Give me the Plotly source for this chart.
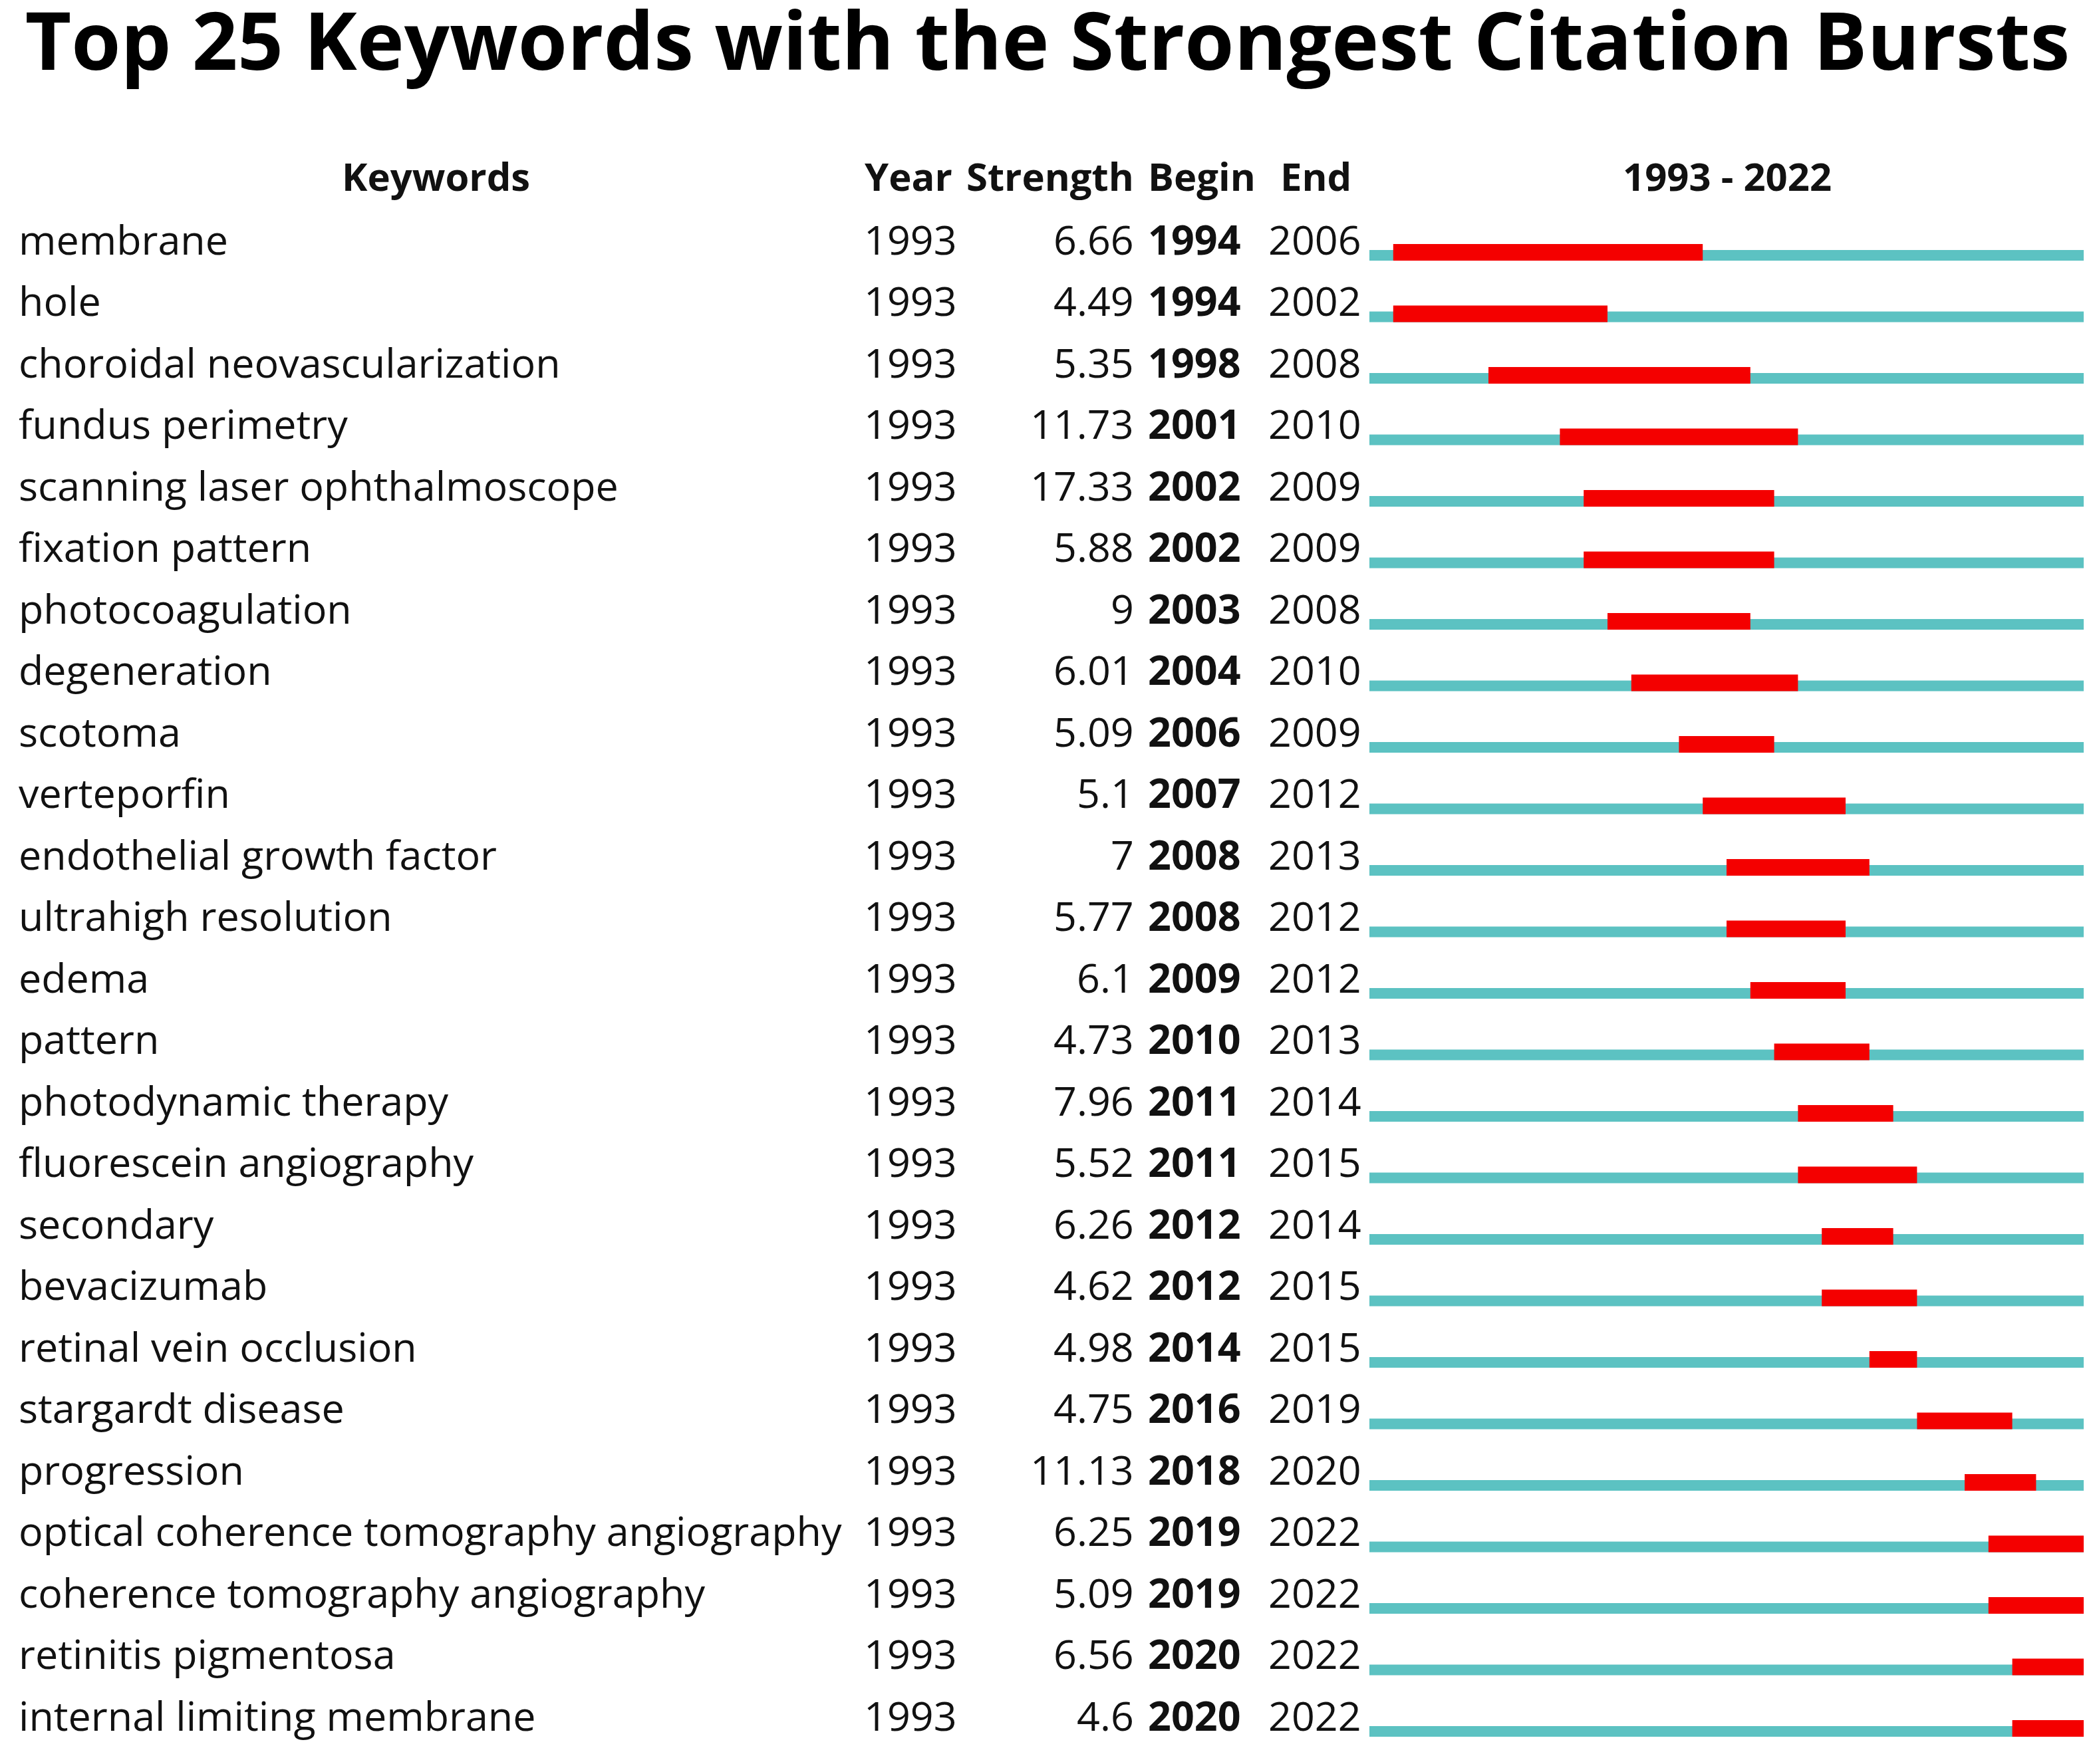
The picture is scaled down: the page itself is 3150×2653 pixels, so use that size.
import plotly.graph_objects as go

W, H = 3150, 2653

keywords = [
    "membrane", "hole", "choroidal neovascularization", "fundus perimetry",
    "scanning laser ophthalmoscope", "fixation pattern", "photocoagulation",
    "degeneration", "scotoma", "verteporfin", "endothelial growth factor",
    "ultrahigh resolution", "edema", "pattern", "photodynamic therapy",
    "fluorescein angiography", "secondary", "bevacizumab",
    "retinal vein occlusion", "stargardt disease", "progression",
    "optical coherence tomography angiography",
    "coherence tomography angiography", "retinitis pigmentosa",
    "internal limiting membrane",
]
year = [1993] * 25
strength = [6.66, 4.49, 5.35, 11.73, 17.33, 5.88, 9, 6.01, 5.09, 5.1, 7, 5.77,
            6.1, 4.73, 7.96, 5.52, 6.26, 4.62, 4.98, 4.75, 11.13, 6.25, 5.09,
            6.56, 4.6]
begin = [1994, 1994, 1998, 2001, 2002, 2002, 2003, 2004, 2006, 2007, 2008,
         2008, 2009, 2010, 2011, 2011, 2012, 2012, 2014, 2016, 2018, 2019,
         2019, 2020, 2020]
end = [2006, 2002, 2008, 2010, 2009, 2009, 2008, 2010, 2009, 2012, 2013, 2012,
       2012, 2013, 2014, 2015, 2014, 2015, 2015, 2019, 2020, 2022, 2022, 2022,
       2022]
first_year, last_year = 1993, 2022

rows = list(range(len(keywords)))

# pixel layout helpers
row_h = 92.5          # px between rows
y0_px = 384           # centre of first teal line
def py(px):           # pixel y -> row units
    return (px - y0_px) / row_h

teal_w = 16 / row_h
red_w = 25 / row_h

fig = go.Figure()

# whole period (teal)
fig.add_trace(go.Bar(
    y=rows,
    x=[last_year + 1 - first_year] * len(rows),
    base=[first_year] * len(rows),
    orientation="h",
    width=teal_w,
    offset=-teal_w / 2,
    marker=dict(color="#5cc2c2", line_width=0),
    hoverinfo="skip",
))

# burst period (red)
fig.add_trace(go.Bar(
    y=rows,
    x=[e + 1 - b for b, e in zip(begin, end)],
    base=begin,
    orientation="h",
    width=red_w,
    offset=teal_w / 2 - red_w,
    marker=dict(color="#f40000", line_width=0),
    hoverinfo="skip",
))

font = "Open Sans"
txt = dict(family=font, size=61, color="#111111")
head = dict(family=font, size=58, color="#111111")

ann = []
text_dy = py(359)
for i in rows:
    y = i + text_dy
    ann.append(dict(x=26 / W, y=y, text=keywords[i], xanchor="left", font=txt))
    ann.append(dict(x=1297 / W, y=y, text=str(year[i]), xanchor="left", font=txt))
    ann.append(dict(x=1707 / W, y=y, text=f"{strength[i]:g}", xanchor="right", font=txt))
    ann.append(dict(x=1724 / W, y=y, text="<b>%d</b>" % begin[i], xanchor="left", font=txt))
    ann.append(dict(x=1977 / W, y=y, text=str(end[i]), xanchor="center", font=txt))

hy = py(264)
headers = [("Keywords", 655, "center"), ("Year", 1298, "left"),
           ("Strength", 1707, "right"), ("Begin", 1724, "left"),
           ("End", 1978, "center"),
           (f"{first_year} - {last_year}", 2597, "center")]
for label, x, anchor in headers:
    ann.append(dict(x=x / W, y=hy, text=f"<b>{label}</b>", xanchor=anchor, font=head))

for a in ann:
    a.update(xref="paper", yref="y", yanchor="middle", showarrow=False)

fig.update_layout(
    width=W, height=H,
    margin=dict(l=0, r=0, t=0, b=0),
    paper_bgcolor="white", plot_bgcolor="white",
    barmode="overlay", showlegend=False,
    title=dict(text="<b>Top 25 Keywords with the Strongest Citation Bursts</b>",
               x=0.5, xanchor="center", y=1 - 63 / H, yanchor="middle",
               font=dict(family=font, size=120, color="#000000")),
    xaxis=dict(domain=[2059 / W, 3133 / W], range=[first_year, last_year + 1],
               visible=False, fixedrange=True),
    yaxis=dict(domain=[0, 1], range=[py(H), py(0)], visible=False,
               fixedrange=True),
    annotations=ann,
)

fig.write_html("out.html", config={"displayModeBar": False},
               post_script="document.body.style.margin='0';")
